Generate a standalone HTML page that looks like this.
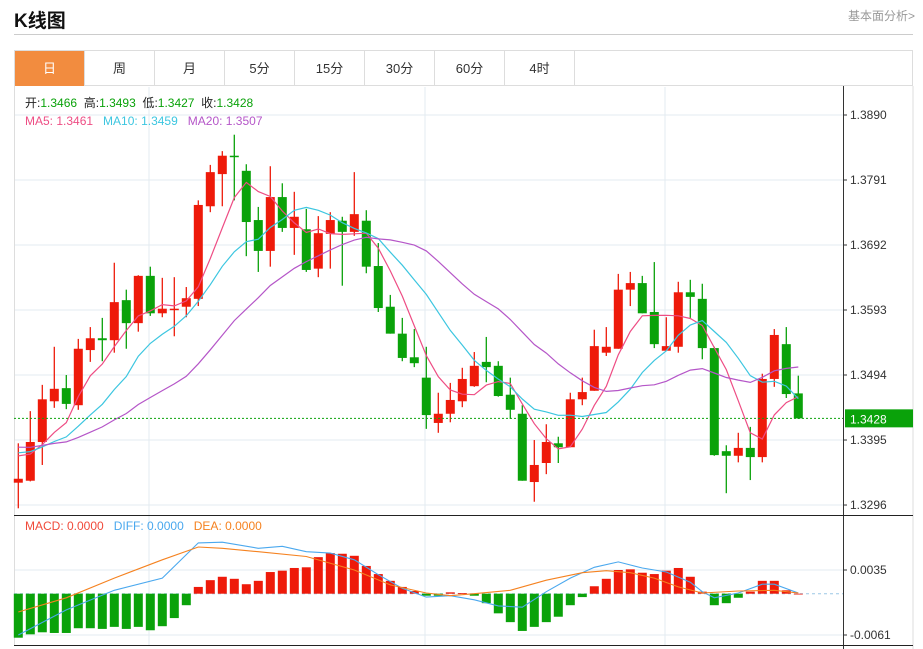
<!DOCTYPE html>
<html><head><meta charset="utf-8"><style>
body{margin:0;width:923px;height:649px;background:#fff;overflow:hidden;font-family:"Liberation Sans","Noto Sans CJK SC",sans-serif;position:relative}
.t{position:absolute}
#title{left:14px;top:6px;font-size:19px;font-weight:bold;color:#111}
#more{right:8px;top:7px;font-size:12px;color:#999}
#hr{left:14px;top:34px;width:899px;height:1px;background:#ccc}
#tabs{left:14px;top:50px;width:899px;height:36px;border:1px solid #ddd;border-bottom:1px solid #ddd;box-sizing:border-box;display:flex}
.tab{width:70px;height:35px;line-height:35px;text-align:center;font-size:13px;color:#333;border-right:1px solid #ddd;box-sizing:border-box}
.tab.on{background:#f28c3f;color:#fff}
svg{position:absolute;left:0;top:0}
</style></head><body>
<div class="t" id="title">K线图</div>
<div class="t" id="more">基本面分析&gt;</div>
<div class="t" id="hr"></div>
<div class="t" id="tabs">
<div class="tab on">日</div>
<div class="tab">周</div>
<div class="tab">月</div>
<div class="tab">5分</div>
<div class="tab">15分</div>
<div class="tab">30分</div>
<div class="tab">60分</div>
<div class="tab">4时</div>
</div>
<svg id="c" width="923" height="649"></svg>
<script>
const opens=[1.3330,1.3333,1.3392,1.3454,1.3474,1.3448,1.3532,1.3550,1.3547,1.3608,1.3573,1.3645,1.3588,1.3593,1.3598,1.3610,1.3751,1.3800,1.3828,1.3805,1.3730,1.3683,1.3765,1.3718,1.3716,1.3656,1.3709,1.3729,1.3712,1.3729,1.3660,1.3598,1.3557,1.3521,1.3490,1.3421,1.3435,1.3454,1.3477,1.3514,1.3508,1.3464,1.3435,1.3331,1.3360,1.3390,1.3384,1.3457,1.3470,1.3528,1.3534,1.3624,1.3634,1.3590,1.3531,1.3537,1.3620,1.3610,1.3535,1.3378,1.3371,1.3383,1.3369,1.3488,1.3541,1.3466];
const highs=[1.3390,1.3439,1.3479,1.3537,1.3494,1.3549,1.3567,1.3581,1.3665,1.3624,1.3646,1.3659,1.3642,1.3643,1.3628,1.3760,1.3814,1.3835,1.3860,1.3815,1.3750,1.3812,1.3786,1.3773,1.3747,1.3736,1.3742,1.3735,1.3803,1.3745,1.3695,1.3616,1.3581,1.3564,1.3537,1.3467,1.3482,1.3505,1.3529,1.3552,1.3515,1.3490,1.3448,1.3395,1.3419,1.3400,1.3467,1.3490,1.3563,1.3567,1.3648,1.3651,1.3645,1.3666,1.3582,1.3636,1.3639,1.3633,1.3537,1.3387,1.3406,1.3415,1.3496,1.3564,1.3567,1.3493];
const lows=[1.3291,1.3332,1.3357,1.3444,1.3442,1.3441,1.3514,1.3515,1.3528,1.3534,1.3560,1.3584,1.3582,1.3553,1.3582,1.3599,1.3742,1.3751,1.3760,1.3675,1.3651,1.3659,1.3712,1.3677,1.3651,1.3643,1.3656,1.3630,1.3706,1.3649,1.3590,1.3557,1.3515,1.3506,1.3412,1.3406,1.3422,1.3445,1.3476,1.3483,1.3461,1.3427,1.3333,1.3301,1.3343,1.3360,1.3384,1.3448,1.3470,1.3523,1.3534,1.3599,1.3588,1.3535,1.3531,1.3528,1.3581,1.3518,1.3371,1.3314,1.3361,1.3334,1.3361,1.3476,1.3459,1.3427];
const closes=[1.3336,1.3392,1.3457,1.3473,1.3450,1.3534,1.3550,1.3547,1.3605,1.3573,1.3645,1.3588,1.3595,1.3595,1.3611,1.3753,1.3803,1.3828,1.3826,1.3727,1.3683,1.3765,1.3718,1.3735,1.3654,1.3710,1.3730,1.3712,1.3739,1.3659,1.3596,1.3557,1.3520,1.3512,1.3433,1.3435,1.3456,1.3488,1.3508,1.3506,1.3462,1.3441,1.3333,1.3357,1.3392,1.3384,1.3457,1.3468,1.3538,1.3537,1.3624,1.3634,1.3588,1.3541,1.3538,1.3620,1.3613,1.3535,1.3372,1.3371,1.3383,1.3369,1.3488,1.3555,1.3465,1.3428];
const prevCloses=[1.3395,1.3400,1.3410,1.3405,1.3398,1.3390,1.3385,1.3392,1.3380,1.3370,1.3375,1.3385,1.3390,1.3380,1.3372,1.3378,1.3385,1.3380,1.3375];
const priceTicks=[1.3890,1.3791,1.3692,1.3593,1.3494,1.3395,1.3296];
const macdHist=[-0.0065,-0.0060,-0.0057,-0.0058,-0.0058,-0.0051,-0.0051,-0.0052,-0.0049,-0.0052,-0.0049,-0.0054,-0.0048,-0.0036,-0.0017,0.0010,0.0020,0.0025,0.0022,0.0014,0.0019,0.0032,0.0034,0.0038,0.0039,0.0054,0.0060,0.0059,0.0056,0.0041,0.0029,0.0019,0.0010,0.0004,-0.0003,-0.0003,0.0002,0.0001,-0.0003,-0.0014,-0.0029,-0.0042,-0.0055,-0.0049,-0.0042,-0.0034,-0.0017,-0.0005,0.0011,0.0022,0.0035,0.0036,0.0031,0.0029,0.0034,0.0038,0.0025,0.0003,-0.0017,-0.0014,-0.0006,0.0003,0.0019,0.0019,0.0005,0.0000];
const diffIdx=[0,4,8,12,15,17,20,22,24,26,28,30,32,34,36,38,40,42,44,46,48,50,52,54,56,57,58,60,62,63,65];
const diffVal=[-0.0061,-0.0024,0.0005,0.0023,0.0075,0.0076,0.0067,0.0070,0.0062,0.0060,0.0050,0.0028,0.0008,-0.0005,-0.0003,-0.0009,-0.0018,-0.0020,0.0003,0.0023,0.0039,0.0047,0.0038,0.0032,0.0017,0.0003,-0.0006,0.0001,0.0014,0.0014,0.0001];
const deaIdx=[0,4,8,12,15,17,20,24,28,31,34,36,38,41,44,47,49,51,53,55,57,60,63,65];
const deaVal=[-0.0027,-0.0006,0.0023,0.0050,0.0069,0.0067,0.0062,0.0055,0.0035,0.0013,0.0001,-0.0003,0.0000,0.0005,0.0020,0.0031,0.0034,0.0031,0.0023,0.0010,0.0001,0.0004,0.0005,0.0001];
const macdTicks=[0.0035,-0.0061];

const NS='http://www.w3.org/2000/svg',svg=document.getElementById('c');
function mk(tag,a,name,txt){const e=document.createElementNS(NS,tag);for(const k in a)e.setAttribute(k,a[k]);


if(txt!=null)e.textContent=txt;svg.appendChild(e);return e;}
const L=14,AX=843,R=913;
const x=i=>18.3+12*i;
const y=p=>115+(1.3890-p)/0.0001523;
const ym=v=>593.7-v/0.0001477;
const RED='#ee1a0a',GREEN='#0aa20a';
// frame & grid
[115,180,245,310,375,440,505].forEach(g=>mk('line',{x1:L,x2:AX,y1:g,y2:g,stroke:'#e3ebf1'},'price-gridline'));
[570,635].forEach(g=>mk('line',{x1:L,x2:AX,y1:g,y2:g,stroke:'#e3ebf1'},'macd-gridline'));
[149,425,665].forEach(g=>mk('line',{x1:g,x2:g,y1:87,y2:645,stroke:'#e3ebf1'},'vertical-gridline'));
mk('line',{x1:L+0.5,x2:L+0.5,y1:86,y2:645,stroke:'#ddd'},'chart-left-border');
mk('line',{x1:R,x2:R,y1:86,y2:649,stroke:'#ddd'},'chart-right-border');
mk('line',{x1:AX+0.5,x2:AX+0.5,y1:86,y2:649,stroke:'#333'},'y-axis-line');
mk('line',{x1:L,x2:R,y1:515.5,y2:515.5,stroke:'#222'},'panel-divider');
mk('line',{x1:L,x2:R,y1:645.5,y2:645.5,stroke:'#222'},'macd-bottom-line');
priceTicks.forEach(t=>{const yy=y(t);mk('line',{x1:AX,x2:AX+4,y1:yy,y2:yy,stroke:'#333'},'price-tick');
mk('text',{x:850,y:yy+4,'font-size':12,fill:'#333'},'price-tick-label',t.toFixed(4));});
macdTicks.forEach(t=>{const yy=ym(t);mk('line',{x1:AX,x2:AX+4,y1:yy,y2:yy,stroke:'#333'},'macd-tick');
mk('text',{x:850,y:yy+4,'font-size':12,fill:'#333'},'macd-tick-label',t.toFixed(4));});
// candles
opens.forEach((o,i)=>{const c=closes[i],up=c>=o,col=up?RED:GREEN,cx=x(i);
mk('line',{x1:cx,x2:cx,y1:y(highs[i]),y2:y(lows[i]),stroke:col,'stroke-width':1.3},'candle-wick');
const t=y(Math.max(o,c)),b=y(Math.min(o,c));
mk('rect',{x:cx-4.5,y:t,width:9,height:Math.max(1.5,b-t),fill:col},'candle-body');});
// MAs
const all=prevCloses.concat(closes),off=prevCloses.length;
function ma(n){return closes.map((_,i)=>{const e=i+off+1,s=Math.max(0,e-n);let sum=0;for(let k=s;k<e;k++)sum+=all[k];return sum/(e-s);});}
[[5,'#ee4d84','ma5-line'],[10,'#3cc6e0','ma10-line'],[20,'#b556c8','ma20-line']].forEach(([n,col,nm])=>{
const v=ma(n);mk('polyline',{points:v.map((p,i)=>x(i)+','+y(p).toFixed(1)).join(' '),fill:'none',stroke:col,'stroke-width':1.2},nm);});
// last price line
const last=closes[closes.length-1];
mk('line',{x1:L,x2:AX,y1:y(last),y2:y(last),stroke:GREEN,'stroke-dasharray':'2,2'},'last-price-line');
mk('rect',{x:AX+2,y:y(last)-9,width:R-AX-2,height:18,fill:GREEN},'last-price-badge');
mk('text',{x:850,y:y(last)+5,'font-size':12,fill:'#fff'},'last-price-label',last.toFixed(4));
// MACD
mk('line',{x1:L,x2:AX,y1:ym(0),y2:ym(0),stroke:'#9cc7e6','stroke-dasharray':'3,3'},'macd-zero-line');
macdHist.forEach((v,i)=>{const t=Math.min(ym(v),ym(0)),h=Math.abs(ym(v)-ym(0));
mk('rect',{x:x(i)-4.5,y:t,width:9,height:Math.max(0.8,h),fill:v>=0?RED:GREEN},'macd-bar');});
mk('polyline',{points:diffIdx.map((k,j)=>x(k)+','+ym(diffVal[j]).toFixed(1)).join(' '),fill:'none',stroke:'#4aa8ee','stroke-width':1.1},'diff-line');
mk('polyline',{points:deaIdx.map((k,j)=>x(k)+','+ym(deaVal[j]).toFixed(1)).join(' '),fill:'none',stroke:'#f58220','stroke-width':1.1},'dea-line');
// legends
function leg(parts,yy,xx,name){const t=mk('text',{x:xx,y:yy,'font-size':12},name);parts.forEach(([s,c])=>{const ts=document.createElementNS(NS,'tspan');ts.setAttribute('fill',c);ts.textContent=s;t.appendChild(ts);});}
leg([['开:','#222'],['1.3466  ',GREEN],['高:','#222'],['1.3493  ',GREEN],['低:','#222'],['1.3427  ',GREEN],['收:','#222'],['1.3428',GREEN]],107,25,'ohlc-legend');
svg.lastChild.setAttribute('xml:space','preserve');svg.lastChild.style.whiteSpace='pre';
leg([['MA5: 1.3461   ','#ee4d84'],['MA10: 1.3459   ','#3cc6e0'],['MA20: 1.3507','#b556c8']],125,25,'ma-legend');
svg.lastChild.style.whiteSpace='pre';
leg([['MACD: 0.0000   ','#f04a3a'],['DIFF: 0.0000   ','#4aa8ee'],['DEA: 0.0000','#f58220']],530,25,'macd-legend');
svg.lastChild.style.whiteSpace='pre';
</script>
</body></html>
